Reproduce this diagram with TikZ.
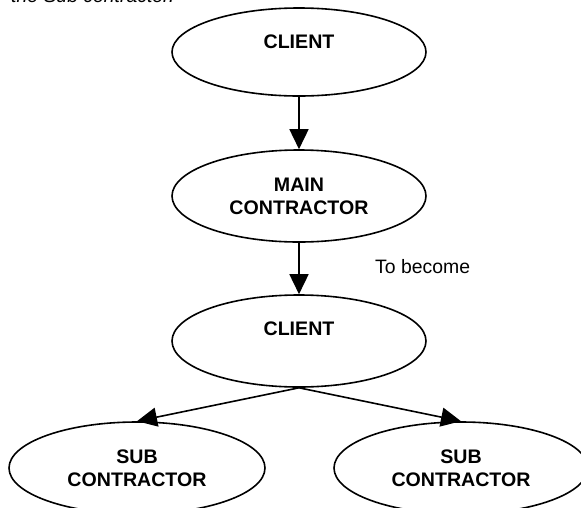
\documentclass[tikz,border=0pt]{standalone}
\usepackage{fontspec}
\setmainfont{Liberation Sans}
\usetikzlibrary{shapes.geometric,arrows.meta}

\tikzset{
  oval/.style={ellipse, draw, line width=1.6pt, minimum width=254pt,
    minimum height=92pt, inner sep=0pt, align=center,
    font=\fontsize{19.6pt}{23pt}\selectfont\bfseries},
  lbl/.style={font=\fontsize{19.6pt}{23pt}\selectfont\bfseries, inner sep=0pt},
  arr/.style={line width=1.6pt, -{Triangle[length=20pt,width=19pt]}},
  note/.style={font=\fontsize{19.4pt}{23pt}\selectfont, inner sep=0pt}
}

\begin{document}
\begin{tikzpicture}[x=1pt,y=-1pt]
  \useasboundingbox (0,0) rectangle (581,507);
  \clip (0,0) rectangle (581,507);

  % caption line running in from above
  \node[note, font=\fontsize{19.4pt}{23pt}\selectfont\itshape, anchor=base west]
    (cap) at (11,2.5) {the Sub contractor.};

  % chain of parties
  \node[oval, minimum height=88pt,
        label={[lbl, yshift=10pt]center:CLIENT}] (c1) at (299,52) {};
  \node[oval] (mc) at (299,196) {MAIN\\CONTRACTOR};
  \node[oval, label={[lbl, yshift=12pt]center:CLIENT}] (c2) at (299,341) {};
  \node[oval, minimum width=256pt] (s1) at (137,468) {SUB\\CONTRACTOR};
  \node[oval] (s2) at (461,468) {SUB\\CONTRACTOR};

  \node[note, anchor=west] (tb) at (375,267) {To become};

  % connectors
  \draw[arr] (c1.south) -- (mc.north);
  \draw[arr] (mc.south) -- (c2.north);
  \draw[arr] (c2.south) -- (s1.north);
  \draw[arr] (c2.south) -- (s2.north);
\end{tikzpicture}
\end{document}
